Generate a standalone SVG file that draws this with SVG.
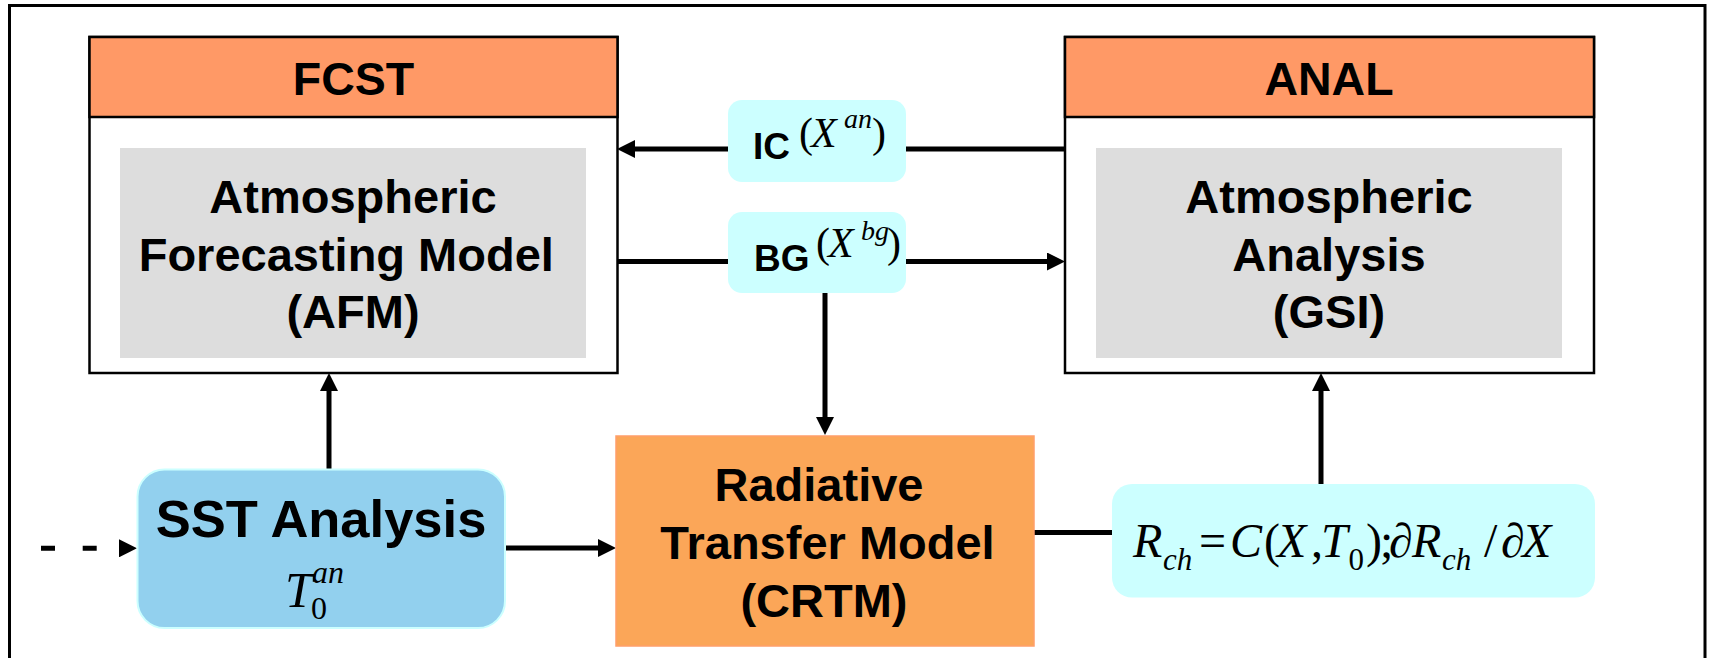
<svg xmlns="http://www.w3.org/2000/svg" width="1710" height="658" viewBox="0 0 1710 658">
<style>
.b{font-family:"Liberation Sans",Arial,sans-serif;font-weight:bold;fill:#000}
.m{font-family:"Liberation Serif","Times New Roman",serif;fill:#000}
.i{font-style:italic}
.ln{stroke:#000;stroke-width:5;fill:none}
.box{fill:#fff;stroke:#000;stroke-width:2.5}
.hdr{fill:#FF9966;stroke:#000;stroke-width:2.5}
.gray{fill:#DDDDDD}
.cy{fill:#CCFFFF}
</style>
<defs>
<marker id="ah" markerUnits="userSpaceOnUse" markerWidth="18" markerHeight="18" refX="6" refY="9" orient="auto">
<path d="M0,0 L18,9 L0,18 z" fill="#000"/>
</marker>
</defs>
<rect x="9.5" y="5.5" width="1695.5" height="700" fill="#fff" stroke="#000" stroke-width="3"/>

<g id="connectors">
<line class="ln" x1="1065" y1="149" x2="629" y2="149" marker-end="url(#ah)"/>
<line class="ln" x1="617" y1="261.5" x2="1053" y2="261.5" marker-end="url(#ah)"/>
<line class="ln" x1="825" y1="293" x2="825" y2="423" marker-end="url(#ah)"/>
<line class="ln" x1="329" y1="469" x2="329" y2="385" marker-end="url(#ah)"/>
<line class="ln" x1="1321" y1="484" x2="1321" y2="385" marker-end="url(#ah)"/>
<line class="ln" x1="505" y1="548" x2="604" y2="548" marker-end="url(#ah)"/>
<line class="ln" x1="1034" y1="532.5" x2="1112" y2="532.5"/>
<line class="ln" x1="41" y1="548.3" x2="125" y2="548.3" stroke-width="4.7" stroke-dasharray="14 27.7" marker-end="url(#ah)"/>
</g>

<g id="fcst">
<rect class="box" x="89.5" y="37" width="528" height="336"/>
<rect class="hdr" x="89.5" y="37" width="528" height="80"/>
<text class="b" x="353.5" y="95" font-size="46.5" text-anchor="middle">FCST</text>
<rect class="gray" x="120" y="148" width="466" height="210"/>
<text class="b" font-size="47" text-anchor="middle"><tspan x="353" y="213">Atmospheric</tspan><tspan x="346.3" y="270.7">Forecasting Model</tspan><tspan x="353" y="328">(AFM)</tspan></text>
</g>

<g id="anal">
<rect class="box" x="1065" y="37" width="529" height="336"/>
<rect class="hdr" x="1065" y="37" width="529" height="80"/>
<text class="b" x="1329" y="95" font-size="46.5" text-anchor="middle">ANAL</text>
<rect class="gray" x="1096" y="148" width="466" height="210"/>
<text class="b" font-size="47" text-anchor="middle"><tspan x="1329" y="213">Atmospheric</tspan><tspan x="1329" y="270.7">Analysis</tspan><tspan x="1329" y="328">(GSI)</tspan></text>
</g>

<g id="ic">
<rect class="cy" x="728" y="100" width="178" height="82" rx="14"/>
<text class="b" x="753" y="159.3" font-size="37">IC</text>
<text class="m" font-size="42"><tspan x="799" y="147">(</tspan><tspan class="i" x="811" y="147">X</tspan><tspan class="i" x="844" y="128" font-size="28">an</tspan><tspan x="872" y="147">)</tspan></text>
</g>

<g id="bg">
<rect class="cy" x="728" y="212" width="178" height="81" rx="14"/>
<text class="b" x="754" y="270.7" font-size="37">BG</text>
<text class="m" font-size="42"><tspan x="816" y="257">(</tspan><tspan class="i" x="828" y="257">X</tspan><tspan class="i" x="861" y="240" font-size="28">bg</tspan><tspan x="887" y="257">)</tspan></text>
</g>

<g id="sst">
<rect x="137.5" y="469.5" width="367.5" height="158.5" rx="27" fill="#92D0EE" stroke="#CCFFFF" stroke-width="2"/>
<text class="b" x="321" y="536.7" font-size="52.5" text-anchor="middle">SST Analysis</text>
<text class="m"><tspan class="i" x="285" y="607" font-size="50">T</tspan><tspan class="i" x="312" y="583" font-size="32">an</tspan><tspan x="311" y="619" font-size="32">0</tspan></text>
</g>

<g id="crtm">
<rect x="616" y="436" width="418" height="210" fill="#FBA658" stroke="#FF9F6A" stroke-width="1.5"/>
<text class="b" font-size="47" text-anchor="middle"><tspan x="819" y="501">Radiative</tspan><tspan x="827.5" y="559.3">Transfer Model</tspan><tspan x="824" y="616.7">(CRTM)</tspan></text>
</g>

<g id="eq">
<rect class="cy" x="1112" y="484" width="483" height="113.5" rx="20"/>
<text class="m" font-size="48">
<tspan class="i" x="1133" y="557.3">R</tspan>
<tspan class="i" x="1163" y="570" font-size="31">ch</tspan>
<tspan x="1199" y="557.3">=</tspan>
<tspan class="i" x="1230" y="557.3">C</tspan>
<tspan x="1264" y="557.3">(</tspan>
<tspan class="i" x="1277" y="557.3">X</tspan>
<tspan x="1311" y="557.3">,</tspan>
<tspan class="i" x="1321" y="557.3">T</tspan>
<tspan x="1348.5" y="570" font-size="31">0</tspan>
<tspan x="1366" y="557.3">)</tspan>
<tspan x="1380" y="557.3">;</tspan>
<tspan x="1389" y="557.3">∂</tspan>
<tspan class="i" x="1412" y="557.3">R</tspan>
<tspan class="i" x="1442" y="570" font-size="31">ch</tspan>
<tspan x="1484" y="557.3">/</tspan>
<tspan x="1501" y="557.3">∂</tspan>
<tspan class="i" x="1522" y="557.3">X</tspan>
</text>
</g>
</svg>
